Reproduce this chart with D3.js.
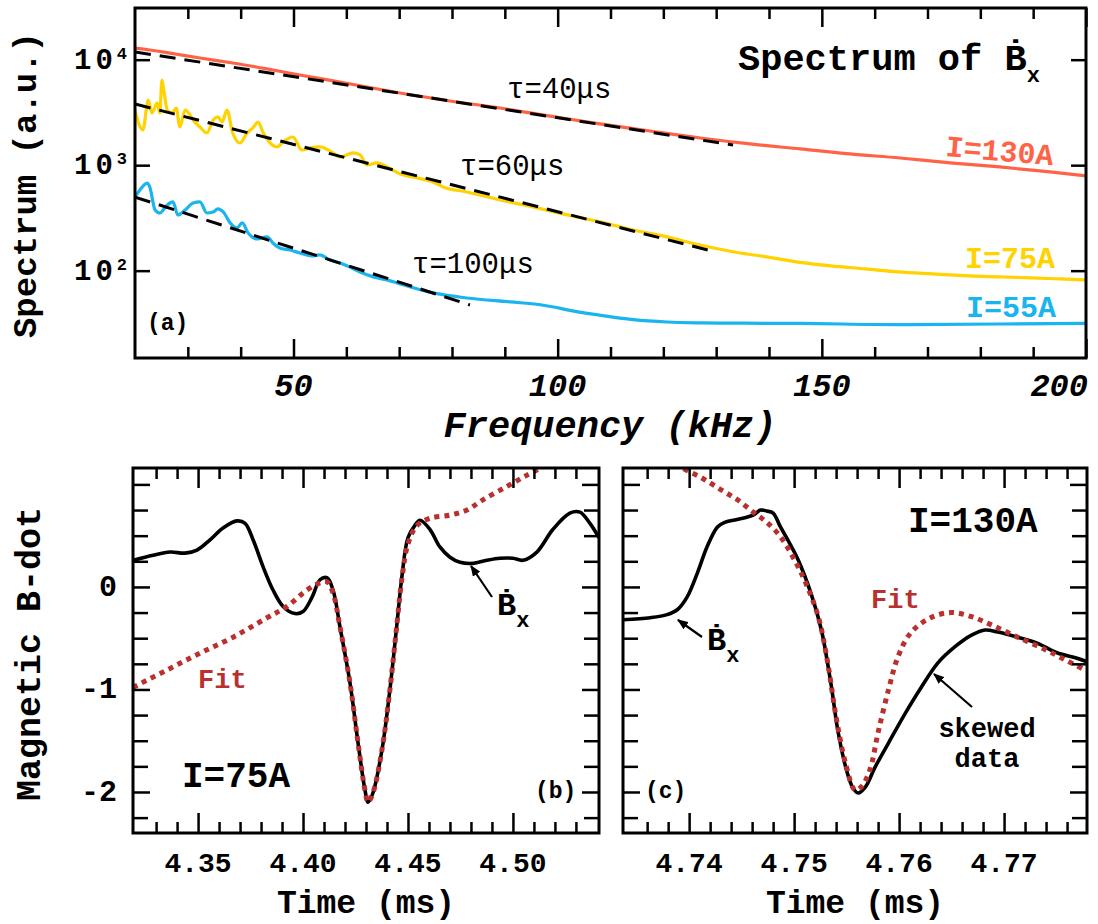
<!DOCTYPE html>
<html>
<head>
<meta charset="utf-8">
<script src="https://cdn.jsdelivr.net/npm/d3@7"></script>
<style>
body { margin: 0; background: #fff; }
text { font-family: "Liberation Mono", "DejaVu Sans Mono", monospace; font-weight: bold; }
</style>
</head>
<body>
<script>
// ---- panel (a): spectra ----
let freq130 = [20,22.8,27.6,32.3,38.5,45,51.2,57.5,63.9,70.2,79.6,89.1,98.6,108,117.5,127,136.4,145.9,155.3,164.8,174.3,183.7,193.2,200]
let spec130 = [12900,12360,11320,10380,9300,8170,7160,6290,5510,4830,4060,3480,2920,2460,2110,1810,1590,1425,1278,1170,1050,962,863,791]

let freq75 = [20,20.8,21.5,22.5,23.2,24.2,24.7,25.1,25.5,26.1,27,27.8,28.5,29.5,30.4,31,32.3,33.6,34.8,35.7,36.5,37.4,38.5,39.9,41.2,42.3,43.3,44.2,45.6,46.9,48,49.9,51.6,53.1,55,57.5,58.8,61.3,62.6,63.9,65.8,67.7,70.2,72.6,76.4,78.3,82.8,89.1,95.3,101.8,108,114.3,120.7,126.9,133.2,139.6,145.9,151.7,158.2,164.4,170.9,177.1,183.7,189.6,195.1,200]
let spec75 = [3334,2404,2158,4150,3125,3890,3125,6410,4940,3334,3125,3484,2300,3334,2993,2680,2300,2020,2680,2864,2566,3334,2020,1622,2020,2254,2566,2065,1622,1489,1660,1850,1393,1455,1489,1306,1197,1306,1250,1005,1050,962,826,773,693,622,557,468,402,338,290,243,209,175,151,135,120,111,104,97.3,93.1,89.6,87.3,85.4,83.5,81.7]

let freq55 = [20,20.9,22.3,22.8,23.8,24.7,26.1,27.2,28.1,29.5,31,32.3,33.6,34.8,35.7,36.7,38,39.3,40.3,41.4,43.1,45,46.1,47.4,49.3,51.2,53.5,55,56.9,58.8,60.7,62.6,65.1,67.7,70.2,76.4,82.8,91,96.7,99.5,101.8,108,114.3,120.7,127,133.2,145.9,164.4,183.7,200]
let spec55 = [498,580,676,620,376,352,420,448,337,376,438,448,352,360,385,360,284,254,284,228,200,209,183,164,157,147,138,141,126,118,108,97.3,87.3,81.7,74.8,61.5,55.1,50.5,47.5,45,42.5,37.8,34.3,32.6,32,31.8,31.6,30.8,31.2,31.7]

// exponential fits (two end points each, straight on the log axis)
let fit40Freq = [20, 133.2], fit40Val = [11830, 1552]
let fit60Freq = [20, 129.8], fit60Val = [3802, 150.6]
let fit100Freq = [20, 83.4], fit100Val = [498, 47.3]

let freqMajor = [50, 100, 150, 200]
let freqMinor = [30, 40, 60, 70, 80, 90, 110, 120, 130, 140, 160, 170, 180, 190]
let specMajor = [100, 1000, 10000]

// ---- panel (b): I=75A ----
let timeB = [4.3190,4.3286,4.3367,4.3438,4.3495,4.3557,4.3619,4.3686,4.3724,4.3762,4.3810,4.3857,4.3905,4.3962,4.4000,4.4043,4.4081,4.4114,4.4143,4.4176,4.4224,4.4262,4.4295,4.4310,4.4333,4.4376,4.4414,4.4448,4.4471,4.4500,4.4533,4.4557,4.4605,4.4652,4.4700,4.4748,4.4810,4.4876,4.4938,4.5000,4.5048,4.5114,4.5190,4.5271,4.5319,4.5367,4.5410]
let bdotB = [0.26,0.31,0.34,0.33,0.36,0.46,0.575,0.644,0.62,0.46,0.195,-0.03,-0.19,-0.26,-0.24,-0.10,0.07,0.09,-0.03,-0.39,-0.94,-1.52,-1.98,-2.10,-2.01,-1.59,-1.00,-0.35,0.10,0.48,0.60,0.65,0.56,0.39,0.29,0.24,0.23,0.26,0.28,0.28,0.26,0.34,0.56,0.72,0.73,0.62,0.48]
let fitTimeB = [4.3190,4.3352,4.3510,4.3667,4.3829,4.3924,4.4019,4.4081,4.4114,4.4143,4.4176,4.4224,4.4262,4.4295,4.4310,4.4333,4.4376,4.4414,4.4448,4.4471,4.4500,4.4543,4.4605,4.4700,4.4781,4.4857,4.4971,4.5067,4.5152]
let fitB = [-0.98,-0.81,-0.645,-0.49,-0.30,-0.19,-0.03,0.04,0.05,-0.06,-0.39,-0.94,-1.52,-1.98,-2.10,-2.01,-1.59,-1.00,-0.35,0.08,0.42,0.60,0.67,0.70,0.75,0.85,0.98,1.09,1.18]
let timeMajorB = [4.35, 4.40, 4.45, 4.50]
let timeMinorB = [4.33,4.34,4.36,4.37,4.38,4.39,4.41,4.42,4.43,4.44,4.46,4.47,4.48,4.49,4.51,4.52,4.53]

// ---- panel (c): I=130A ----
let timeC = [4.7337,4.7363,4.7379,4.7389,4.7398,4.7408,4.7417,4.7427,4.7434,4.7442,4.7451,4.7461,4.7468,4.7474,4.7480,4.7487,4.7496,4.7504,4.7516,4.7526,4.7535,4.7542,4.7550,4.7556,4.7561,4.7568,4.7577,4.7590,4.7606,4.7621,4.7637,4.7653,4.7669,4.7682,4.7694,4.7713,4.7732,4.7751,4.7768,4.7779]
let bdotC = [-0.32,-0.30,-0.27,-0.22,-0.10,0.14,0.39,0.585,0.63,0.65,0.67,0.70,0.75,0.74,0.72,0.585,0.42,0.26,-0.06,-0.42,-0.94,-1.42,-1.79,-1.96,-2.01,-1.95,-1.76,-1.52,-1.23,-0.98,-0.74,-0.585,-0.47,-0.42,-0.44,-0.49,-0.55,-0.645,-0.69,-0.73]
let fitTimeC = [4.7388,4.7394,4.7411,4.7430,4.7446,4.7461,4.7474,4.7487,4.7499,4.7511,4.7523,4.7532,4.7540,4.7549,4.7558,4.7564,4.7572,4.7580,4.7590,4.7599,4.7611,4.7630,4.7650,4.7669,4.7688,4.7713,4.7739,4.7758,4.7777]
let fitC = [1.22,1.16,1.07,0.95,0.85,0.73,0.63,0.49,0.29,0.04,-0.29,-0.74,-1.27,-1.72,-1.98,-1.95,-1.79,-1.42,-1.0,-0.68,-0.45,-0.30,-0.25,-0.29,-0.37,-0.49,-0.61,-0.71,-0.81]
let timeMajorC = [4.74, 4.75, 4.76, 4.77]
let timeMinorC = [4.736,4.738,4.742,4.744,4.746,4.748,4.752,4.754,4.756,4.758,4.762,4.764,4.766,4.768,4.772,4.774,4.776]

let bMajor = [-2, -1, 0, 1]
let bMinor = [-2.25, -1.75, -1.5, -1.25, -0.75, -0.5, -0.25, 0.25, 0.5, 0.75]

let red = '#ff6347', yellow = '#ffd200', cyan = '#1ab4ef', fitRed = '#b8312f'

let svg = d3.select("body").append("svg")
    .attr("width", 1098)
    .attr("height", 924)

let defs = svg.append("defs")
defs.append("marker").attr("id", "arrow")
    .attr("viewBox", "0 0 10 8").attr("refX", 9).attr("refY", 4)
    .attr("markerWidth", 11).attr("markerHeight", 9)
    .attr("markerUnits", "userSpaceOnUse").attr("orient", "auto")
    .append("path").attr("d", "M0,0 L10,4 L0,8 Z").attr("fill", "#000")

function clip(id, x0, x1, y0, y1) {
    defs.append("clipPath").attr("id", id)
        .append("rect").attr("x", x0).attr("y", y0).attr("width", x1 - x0).attr("height", y1 - y0)
}

// inward tick marks drawn with d3 axes
function ticks(axisFn, scale, vals, len, transform) {
    svg.append("g").attr("transform", transform)
        .call(axisFn(scale).tickValues(vals).tickSize(-len).tickSizeOuter(0).tickFormat(""))
        .call(g => g.select(".domain").remove())
        .selectAll("line").attr("stroke", "#000").attr("stroke-width", 2.5)
}

function frame(x0, x1, y0, y1) {
    svg.append("rect").attr("x", x0).attr("y", y0).attr("width", x1 - x0).attr("height", y1 - y0)
        .attr("fill", "none").attr("stroke", "#000").attr("stroke-width", 3)
}

function label(x, y, txt, size, opts) {
    opts = opts || {}
    let t = svg.append("text").attr("x", x).attr("y", y).attr("font-size", size)
        .attr("fill", opts.fill || "#000").attr("text-anchor", opts.anchor || "start")
        .text(txt)
    if (opts.weight) t.style("font-weight", opts.weight)
    if (opts.italic) t.style("font-style", "italic")
    if (opts.transform) t.attr("transform", opts.transform)
    return t
}

// B with a dot and subscript x
function bdotLabel(x, y, size, subSize) {
    let t = svg.append("text").attr("x", x).attr("y", y).attr("font-size", size)
    t.append("tspan").text("\u1E02")
    t.append("tspan").attr("font-size", subSize).attr("dy", size * 0.36).text("x")
    return t
}

function arrow(x1, y1, x2, y2) {
    svg.append("line").attr("x1", x1).attr("y1", y1).attr("x2", x2).attr("y2", y2)
        .attr("stroke", "#000").attr("stroke-width", 2.2).attr("marker-end", "url(#arrow)")
}

// ================= panel (a) =================
let A = { x0: 135, x1: 1086, y0: 8, y1: 358 }
let xF = d3.scaleLinear().domain([20, 200]).range([A.x0, A.x1])
let yS = d3.scaleLog().domain([14.86, 30900]).range([A.y1, A.y0])
clip("clipA", A.x0, A.x1, A.y0, A.y1)

let specLine = d3.line().x(d => xF(d[0])).y(d => yS(d[1]))
let gA = svg.append("g").attr("clip-path", "url(#clipA)")

let spectra = [
    { f: freq130, v: spec130, c: red },
    { f: freq75, v: spec75, c: yellow },
    { f: freq55, v: spec55, c: cyan }
]
spectra.forEach(s => {
    gA.append("path").datum(s.f.map((f, i) => [f, s.v[i]]))
        .attr("d", specLine.curve(d3.curveMonotoneX)).attr("fill", "none")
        .attr("stroke", s.c).attr("stroke-width", 3.2).attr("stroke-linejoin", "round")
})

let fits = [[fit40Freq, fit40Val], [fit60Freq, fit60Val], [fit100Freq, fit100Val]]
fits.forEach(ft => {
    gA.append("path").datum(ft[0].map((f, i) => [f, ft[1][i]]))
        .attr("d", specLine.curve(d3.curveLinear)).attr("fill", "none")
        .attr("stroke", "#000").attr("stroke-width", 3).attr("stroke-dasharray", "16,9")
})

ticks(d3.axisBottom, xF, freqMajor, 19, `translate(0,${A.y1})`)
ticks(d3.axisBottom, xF, freqMinor, 11, `translate(0,${A.y1})`)
ticks(d3.axisTop, xF, freqMajor, 19, `translate(0,${A.y0})`)
ticks(d3.axisTop, xF, freqMinor, 11, `translate(0,${A.y0})`)
ticks(d3.axisLeft, yS, specMajor, 15, `translate(${A.x0},0)`)
ticks(d3.axisRight, yS, specMajor, 15, `translate(${A.x1},0)`)
frame(A.x0, A.x1, A.y0, A.y1)

// the last label is pulled inside so it ends at the frame, as in the original
svg.selectAll(".xlabA").data(freqMajor).join("text").attr("class", "xlabA")
    .attr("x", d => d === 200 ? xF(d) + 2 : xF(d)).attr("y", 396)
    .attr("text-anchor", d => d === 200 ? "end" : "middle")
    .attr("font-size", 32).style("font-style", "italic")
    .text(d => d)

svg.selectAll(".ylabA").data(specMajor).join("text").attr("class", "ylabA")
    .attr("x", 127).attr("y", d => yS(d) + 9).attr("text-anchor", "end")
    .attr("font-size", 29)
    .each(function (d) {
        let t = d3.select(this)
        t.append("tspan").attr("letter-spacing", 4).text("10")
        t.append("tspan").attr("font-size", 17).attr("dy", -10).text(Math.round(Math.log10(d)))
    })

label(610, 437, "Frequency (kHz)", 37, { anchor: "middle", italic: true })
label(0, 0, "Spectrum (a.u.)", 34, { anchor: "middle", transform: "translate(36,185) rotate(-90)" })

let title = svg.append("text").attr("x", 738).attr("y", 70).attr("font-size", 37)
title.append("tspan").text("Spectrum of \u1E02")
title.append("tspan").attr("font-size", 22).attr("dy", 12).text("x")

label(507, 98, "\u03C4=40\u03BCs", 29, { weight: "normal" })
label(460, 175, "\u03C4=60\u03BCs", 29, { weight: "normal" })
label(412, 273, "\u03C4=100\u03BCs", 29, { weight: "normal" })
label(945, 156, "I=130A", 30, { fill: red, transform: "rotate(5,945,156)" })
label(965, 268, "I=75A", 30, { fill: yellow })
label(966, 317, "I=55A", 30, { fill: cyan })
label(147, 330, "(a)", 23)

// ================= panels (b) and (c) =================
let yB = d3.scaleLinear().domain([-2.4, 1.16]).range([833, 468])
let timeLine = (xs) => d3.line().x(d => xs(d[0])).y(d => yB(d[1])).curve(d3.curveCatmullRom.alpha(0.5))

function panel(id, x0, x1, domain, majors, minors, data, fit, showY) {
    let xs = d3.scaleLinear().domain(domain).range([x0, x1])
    clip(id, x0, x1, 468, 833)
    let g = svg.append("g").attr("clip-path", `url(#${id})`)
    g.append("path").datum(data[0].map((t, i) => [t, data[1][i]]))
        .attr("d", timeLine(xs)).attr("fill", "none").attr("stroke", "#000").attr("stroke-width", 3.6)
    g.append("path").datum(fit[0].map((t, i) => [t, fit[1][i]]))
        .attr("d", timeLine(xs)).attr("fill", "none").attr("stroke", fitRed)
        .attr("stroke-width", 5).attr("stroke-dasharray", "5,5")

    ticks(d3.axisBottom, xs, majors, 20, "translate(0,833)")
    ticks(d3.axisBottom, xs, minors, 11, "translate(0,833)")
    ticks(d3.axisTop, xs, majors, 20, "translate(0,468)")
    ticks(d3.axisTop, xs, minors, 11, "translate(0,468)")
    ticks(d3.axisLeft, yB, bMajor, 17, `translate(${x0},0)`)
    ticks(d3.axisLeft, yB, bMinor, 15, `translate(${x0},0)`)
    ticks(d3.axisRight, yB, bMajor, 17, `translate(${x1},0)`)
    ticks(d3.axisRight, yB, bMinor, 15, `translate(${x1},0)`)
    frame(x0, x1, 468, 833)

    svg.selectAll(".xl" + id).data(majors).join("text").attr("class", "xl" + id)
        .attr("x", d => xs(d)).attr("y", 872).attr("text-anchor", "middle")
        .attr("font-size", 28).text(d => d.toFixed(2))
    label((x0 + x1) / 2, 913, "Time (ms)", 33, { anchor: "middle" })

    if (showY) {
        svg.selectAll(".yl" + id).data(bMajor.filter(d => d < 1)).join("text").attr("class", "yl" + id)
            .attr("x", 117).attr("y", d => yB(d) + 9).attr("text-anchor", "end")
            .attr("font-size", 30).text(d => String(d))
    }
}

panel("clipB", 133, 599, [4.319, 4.541], timeMajorB, timeMinorB, [timeB, bdotB], [fitTimeB, fitB], true)
panel("clipC", 623, 1087, [4.7337, 4.7779], timeMajorC, timeMinorC, [timeC, bdotC], [fitTimeC, fitC], false)

label(0, 0, "Magnetic B-dot", 35, { anchor: "middle", transform: "translate(40,654) rotate(-90)" })

// annotations (b)
label(182, 787, "I=75A", 36)
label(198, 688, "Fit", 27, { fill: fitRed })
label(535, 798, "(b)", 23)
bdotLabel(497, 615, 32, 22)
arrow(492, 597, 471, 566)

// annotations (c)
label(908, 532, "I=130A", 36)
label(871, 608, "Fit", 27, { fill: fitRed })
label(987, 737, "skewed", 27, { anchor: "middle" })
label(987, 767, "data", 27, { anchor: "middle" })
label(645, 798, "(c)", 23)
bdotLabel(707, 650, 32, 22)
arrow(702, 637, 678, 620)
arrow(972, 707, 934, 674)
</script>
</body>
</html>
